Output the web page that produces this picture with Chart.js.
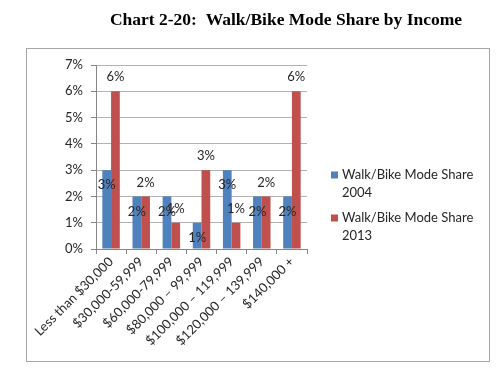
<!DOCTYPE html>
<html><head><meta charset="utf-8">
<style>html,body{margin:0;padding:0;background:#fff}#wrap{width:500px;height:369px;position:relative}</style>
<script src="https://cdn.jsdelivr.net/npm/chart.js@4.4.1/dist/chart.umd.min.js"></script>
</head><body><div id="wrap"><canvas id="c" width="500" height="369"></canvas></div>
<script>
const titleText = "Chart 2-20:  Walk/Bike Mode Share by Income";
const categories = ["Less than $30,000", "$30,000-59,999", "$60,000-79,999", "$80,000 – 99,999", "$100,000 – 119,999", "$120,000 – 139,999", "$140,000 +"];
const share2004 = [3, 2, 2, 1, 3, 2, 2];
const share2013 = [6, 2, 1, 3, 1, 2, 6];
const seriesNames = [["Walk/Bike Mode Share", "2004"], ["Walk/Bike Mode Share", "2013"]];
const yTicks = [0, 1, 2, 3, 4, 5, 6, 7];

const FONT = "Lato, 'Open Sans', sans-serif";
const frame = {
  id: 'frame',
  beforeDraw(chart) {
    const ctx = chart.ctx;
    ctx.save();
    ctx.fillStyle = '#fff';
    ctx.fillRect(0, 0, chart.width, chart.height);
    ctx.strokeStyle = '#a6a6a6';
    ctx.lineWidth = 1;
    ctx.strokeRect(26.5, 48.5, 463, 313);
    ctx.fillStyle = '#000';
    ctx.font = "bold 17.5px 'Liberation Serif', 'Times New Roman', serif";
    ctx.textAlign = 'center';
    ctx.textBaseline = 'middle';
    ctx.fillText(titleText, 286, 20);
    ctx.restore();
  }
};
const labelsAndLegend = {
  id: 'labelsAndLegend',
  afterDatasetsDraw(chart) {
    const ctx = chart.ctx;
    ctx.save();
    ctx.font = "13px " + FONT;
    ctx.fillStyle = '#262626';
    ctx.textAlign = 'center';
    ctx.textBaseline = 'middle';
    chart.data.datasets.forEach((ds, di) => {
      const meta = chart.getDatasetMeta(di);
      meta.data.forEach((bar, i) => {
        const y = di === 0 ? bar.y + 15 : bar.y - 14;
        ctx.fillText(ds.data[i] + '%', bar.x, y);
      });
    });
    ctx.textAlign = 'left';
    const ys = [175, 218];
    chart.data.datasets.forEach((ds, di) => {
      ctx.fillStyle = ds.backgroundColor;
      ctx.fillRect(331, ys[di] - 3.5, 7, 7);
      ctx.fillStyle = '#262626';
      seriesNames[di].forEach((line, li) => ctx.fillText(line, 342, ys[di] + li * 18));
    });
    ctx.restore();
  }
};

new Chart(document.getElementById('c'), {
  type: 'bar',
  data: {
    labels: categories,
    datasets: [
      { label: seriesNames[0].join(' '), data: share2004, backgroundColor: '#4F81BD' },
      { label: seriesNames[1].join(' '), data: share2013, backgroundColor: '#C0504D' }
    ]
  },
  options: {
    responsive: false,
    animation: false,
    layout: { padding: { left: 46, top: 65, right: 193, bottom: 0 } },
    datasets: { bar: { categoryPercentage: 0.58, barPercentage: 1 } },
    plugins: { legend: { display: false }, tooltip: { enabled: false }, title: { display: false } },
    scales: {
      y: {
        min: 0, max: 7,
        afterFit(s) { s.width = 50; },
        afterBuildTicks(s) { s.ticks = yTicks.map(v => ({ value: v })); },
        ticks: { callback: v => v + '%', color: '#262626', font: { size: 13, family: FONT }, padding: 8 },
        grid: { color: '#b3b3b3', tickLength: 5, tickColor: '#868686' },
        border: { color: '#868686' }
      },
      x: {
        afterFit(s) { s.height = 120; },
        ticks: { color: '#262626', font: { size: 13, family: FONT }, minRotation: 45, maxRotation: 45, autoSkip: false, padding: 0 },
        grid: { drawOnChartArea: false, tickLength: 5, color: '#868686' },
        border: { color: '#868686' }
      }
    }
  },
  plugins: [frame, labelsAndLegend]
});
</script></body></html>
